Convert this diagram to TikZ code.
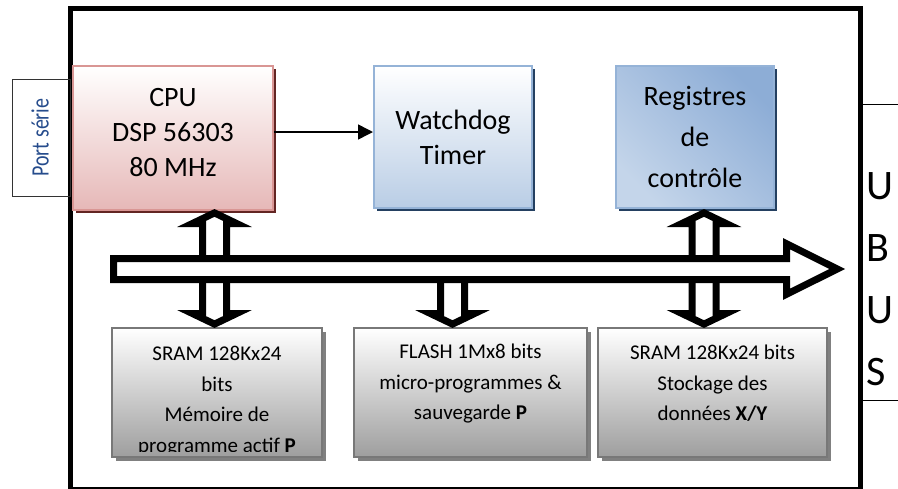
\documentclass[tikz,border=0pt]{standalone}
\usepackage{fontspec}
\setmainfont{Carlito}
\usetikzlibrary{positioning}
\usetikzlibrary{arrows.meta}
\usetikzlibrary{shadows}

\definecolor{cpured}{RGB}{230,184,183}
\definecolor{cpuborder}{RGB}{217,150,148}
\definecolor{cpushadow}{RGB}{99,37,35}
\definecolor{wdblue}{RGB}{185,205,229}
\definecolor{wdborder}{RGB}{149,179,215}
\definecolor{wdshadow}{RGB}{36,64,97}
\definecolor{regdark}{RGB}{141,173,214}
\definecolor{regmid}{RGB}{215,227,241}
\definecolor{reglight}{RGB}{196,213,234}
\definecolor{memgray}{RGB}{158,158,158}
\definecolor{memborder}{RGB}{120,120,120}
\definecolor{memshadow}{RGB}{128,128,128}
\definecolor{portblue}{RGB}{38,76,140}

\begin{document}
\begin{tikzpicture}[x=1pt, y=-1pt,
cpunode/.style={rectangle, draw=cpuborder, line width=2pt, top color=white, bottom color=cpured, drop shadow={shadow xshift=3pt, shadow yshift=-3pt, fill=cpushadow, opacity=1}, minimum width=200pt, minimum height=144pt, align=center, font=\fontsize{28}{35}\selectfont},
bluenode/.style={rectangle, draw=wdborder, line width=2pt, top color=white, bottom color=wdblue, drop shadow={shadow xshift=3pt, shadow yshift=-3pt, fill=wdshadow, opacity=1}, minimum width=158pt, minimum height=142pt, align=center, font=\fontsize{28}{35}\selectfont},
regnode/.style={bluenode, top color=regdark, middle color=regmid, bottom color=reglight, shading angle=-45, font=\fontsize{28}{41}\selectfont},
memnode/.style={rectangle, draw=memborder, line width=2pt, top color=white, bottom color=memgray, drop shadow={shadow xshift=4pt, shadow yshift=-4pt, fill=memshadow, opacity=1}, minimum height=129pt},
memtext/.style={inner sep=0pt, align=center, font=\fontsize{21}{30.5}\selectfont},
portnode/.style={rectangle, draw=black!80, line width=1pt, rotate=90, minimum width=117pt, minimum height=58pt, text=portblue, font=\fontsize{25}{28}\selectfont},
usbtext/.style={anchor=north west, inner sep=0pt, align=left, font=\fontsize{42}{62}\selectfont},
busline/.style={line width=7pt, line join=miter},
]
\clip (0,0) rectangle (898,488);

%Frame
\draw[line width=5pt] (70.5,8.5) rectangle (860.5,489.5);
\draw[line width=1pt] (860.5,104) -- (898,104);
\draw[line width=1pt] (860.5,400) -- (898,400);

%Nodes
\node[portnode]   at (41,137.5)    (port_serie)   [] {\raisebox{2pt}{\scalebox{0.8}[1]{Port série}}};
\node[cpunode]    at (173,138)     (cpu)          [text depth=12pt] {CPU\\DSP 56303\\80 MHz};
\node[bluenode]   at (453,137)     (watchdog)     [] {Watchdog\\Timer};
\node[regnode]    at (695,137)     (registres)    [] {Registres\\de\\contrôle};

\node[memnode]    at (217,392.5)   (sram_p)       [minimum width=210pt] {};
\node[memnode]    at (470.5,392.5) (flash)        [minimum width=233pt] {};
\node[memnode]    at (712.5,392.5) (sram_xy)      [minimum width=229pt] {};

\begin{scope}
\clip (sram_p.north west) rectangle ([yshift=7pt]sram_p.south east);
\node[memtext]    (sram_p_text)   [below=19pt of sram_p.north]  {SRAM 128Kx24\\bits\\Mémoire de\\programme actif \textbf{P}};
\end{scope}
\node[memtext]    (flash_text)    [below=17pt of flash.north]   {FLASH 1Mx8 bits\\micro-programmes \&\\sauvegarde \textbf{P}};
\node[memtext]    (sram_xy_text)  [below=18pt of sram_xy.north] {SRAM 128Kx24 bits\\Stockage des\\données \textbf{X/Y}};

\node[usbtext]    at (866,172)     (usb)          [] {U\\B\\U\\S};

%Lines
\draw[-{Triangle[length=15pt,width=15pt]}, line width=1.5pt] ([yshift=6pt]cpu.east) -- ([yshift=5pt]watchdog.west);

% bus
\draw[busline, fill=white] (113.5,258.5) -- (786.5,258.5) -- (786.5,243.7) -- (837.2,269) -- (786.5,294.3) -- (786.5,279.5) -- (113.5,279.5) -- cycle;

\draw[busline] (202.5,258.5) -- (202.5,223.5) -- (192.4,223.5) -- (214.5,212.9) -- (236.6,223.5) -- (226.5,223.5) -- (226.5,258.5);
\draw[busline] (202.5,279.5) -- (202.5,313.5) -- (192.4,313.5) -- (214.5,324.1) -- (236.6,313.5) -- (226.5,313.5) -- (226.5,279.5);

\draw[busline] (440.5,279.5) -- (440.5,313.5) -- (430.4,313.5) -- (452.5,324.1) -- (474.6,313.5) -- (464.5,313.5) -- (464.5,279.5);

\draw[busline] (692,258.5) -- (692,223.5) -- (681.9,223.5) -- (704,212.9) -- (726.1,223.5) -- (716,223.5) -- (716,258.5);
\draw[busline] (692,279.5) -- (692,313.5) -- (681.9,313.5) -- (704,324.1) -- (726.1,313.5) -- (716,313.5) -- (716,279.5);

\end{tikzpicture}
\end{document}
